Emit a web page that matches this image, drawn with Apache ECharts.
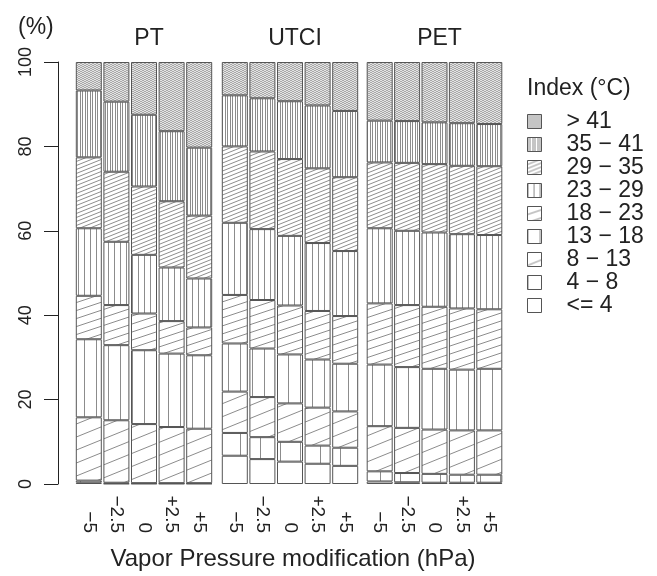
<!DOCTYPE html>
<html>
<head>
<meta charset="utf-8">
<script src="https://cdn.jsdelivr.net/npm/echarts@6/dist/echarts.min.js"></script>
<style>
  html, body { margin: 0; padding: 0; background: #fff; }
  #main { width: 657px; height: 576px; }
</style>
</head>
<body>
<div id="main"></div>
<script>
// categories
var indices = ['PT', 'UTCI', 'PET'];
var modifications = ['\u22125', '\u22122.5', '0', '+2.5', '+5'];
var classes = ['<= 4', '4 \u2212 8', '8 \u2212 13', '13 \u2212 18', '18 \u2212 23',
               '23 \u2212 29', '29 \u2212 35', '35 \u2212 41', '> 41'];

// share of hours (%) per class (rows, coldest first) and modification (columns)
var ptShares = [
	[0.3, 0.1, 0.1, 0.1, 0.1],
	[0.5, 0.2, 0.1, 0.1, 0.1],
	[15.0, 14.8, 14.0, 13.3, 12.9],
	[18.5, 17.8, 17.5, 17.4, 17.4],
	[10.3, 9.5, 8.7, 7.7, 6.6],
	[16.0, 15.0, 13.9, 12.7, 11.6],
	[16.8, 16.6, 16.2, 15.7, 14.9],
	[15.85, 16.6, 17.0, 16.6, 16.1],
	[6.75, 9.4, 12.5, 16.4, 20.3]
];
var utciShares = [
	[6.7, 5.9, 5.3, 4.8, 4.3],
	[5.4, 5.2, 4.7, 4.3, 4.3],
	[9.8, 9.5, 9.1, 9.0, 8.6],
	[11.4, 11.5, 11.6, 11.4, 11.3],
	[11.5, 11.5, 11.6, 11.5, 11.3],
	[17.1, 16.8, 16.5, 16.1, 15.4],
	[18.1, 18.4, 18.2, 17.7, 17.5],
	[12.1, 12.6, 13.7, 14.9, 15.7],
	[7.9, 8.6, 9.3, 10.3, 11.6]
];
var petShares = [
	[0.6, 0.4, 0.3, 0.3, 0.3],
	[2.4, 2.2, 2.1, 1.9, 1.9],
	[10.7, 10.7, 10.5, 10.5, 10.5],
	[14.6, 14.4, 14.4, 14.4, 14.6],
	[14.5, 14.7, 14.7, 14.5, 14.1],
	[17.8, 17.6, 17.6, 17.6, 17.6],
	[15.6, 16.1, 16.2, 16.2, 16.3],
	[9.9, 9.9, 9.9, 10.1, 10.0],
	[13.9, 14.0, 14.3, 14.5, 14.7]
];
var yTicks = [0, 20, 40, 60, 80, 100];

var hatchColor = '#8c8c8c';
var edgeColor = '#555';
var font = '"Liberation Sans", Arial, Helvetica, sans-serif';

// vertical line fill, lines at the given x offsets inside a tile of width w
function vLines(w, xs) {
	var c = document.createElement('canvas');
	c.width = w; c.height = 4;
	var ctx = c.getContext('2d');
	ctx.fillStyle = '#fff';
	ctx.fillRect(0, 0, w, 4);
	ctx.fillStyle = hatchColor;
	xs.forEach(function(x) { ctx.fillRect(x, 0, 1, 4); });
	return { image: c, repeat: 'repeat' };
}

// slanted line fill rising to the right, one line per w x h tile
function sLines(w, h) {
	var c = document.createElement('canvas');
	c.width = w; c.height = h;
	var ctx = c.getContext('2d');
	ctx.fillStyle = '#fff';
	ctx.fillRect(0, 0, w, h);
	ctx.strokeStyle = hatchColor;
	ctx.lineWidth = 1;
	for (var i = -1; i <= 1; i++) {
		for (var j = -1; j <= 1; j++) {
			ctx.beginPath();
			ctx.moveTo(i * w, h + j * h);
			ctx.lineTo(w + i * w, j * h);
			ctx.stroke();
		}
	}
	return { image: c, repeat: 'repeat' };
}

var fills = [
	'#fff',
	vLines(20, [0]),
	sLines(32, 13),
	vLines(12, [0]),
	sLines(24, 8),
	vLines(6, [0]),
	sLines(10, 4),
	vLines(5, [0, 2]),
	sLines(4, 2)
];

var shares = [ptShares, utciShares, petShares];
var gridLeft = [75, 221, 366];
var gridWidth = [138, 138, 137];

var grids = [], xAxes = [], yAxes = [], series = [];
indices.forEach(function(name, g) {
	grids.push({ left: gridLeft[g], width: gridWidth[g], top: 62, bottom: 92 });
	xAxes.push({
		type: 'category', gridIndex: g, data: modifications,
		axisLine: { show: false }, axisTick: { show: false },
		axisLabel: {
			rotate: -90, align: 'right', verticalAlign: 'middle', margin: 49,
			fontSize: 19, color: '#222', fontFamily: font, interval: 0
		}
	});
	yAxes.push({
		type: 'value', gridIndex: g, min: 0, max: 100, interval: 20,
		show: g === 0, offset: 17,
		axisLine: { show: true, lineStyle: { color: '#222', width: 1 } },
		axisTick: { show: true, length: 14, lineStyle: { color: '#222' } },
		axisLabel: {
			rotate: 90, margin: 23, fontSize: 18, color: '#222', fontFamily: font,
			formatter: function(v) { return yTicks.indexOf(v) >= 0 ? String(v) : ''; }
		},
		splitLine: { show: false }
	});
	classes.forEach(function(cls, k) {
		series.push({
			name: cls, type: 'bar', stack: name,
			xAxisIndex: g, yAxisIndex: g,
			barWidth: 26,
			data: shares[g][k],
			itemStyle: { color: fills[k], borderColor: edgeColor, borderWidth: 1 },
			emphasis: { disabled: true },
			animation: false
		});
	});
});

var textBase = { fontWeight: 'normal', color: '#222', fontFamily: font };
var titles = [
	{ text: '(%)', left: 13, top: 11, textStyle: Object.assign({ fontSize: 23 }, textBase) },
	{ text: 'Index (\u00b0C)', left: 522, top: 72, textStyle: Object.assign({ fontSize: 23 }, textBase) },
	{ text: 'Vapor Pressure modification (hPa)', left: 288, top: 542, textAlign: 'center',
	  textStyle: Object.assign({ fontSize: 24 }, textBase) }
];
indices.forEach(function(name, g) {
	titles.push({
		text: name, left: gridLeft[g] + gridWidth[g] / 2, top: 22, textAlign: 'center',
		textStyle: Object.assign({ fontSize: 23 }, textBase)
	});
});

var chart = echarts.init(document.getElementById('main'));
chart.setOption({
	backgroundColor: '#fff',
	animation: false,
	title: titles,
	grid: grids,
	xAxis: xAxes,
	yAxis: yAxes,
	legend: {
		orient: 'vertical', left: 522, top: 105,
		data: classes.slice().reverse(),
		icon: 'rect', itemWidth: 14, itemHeight: 14, itemGap: 0,
		selectedMode: false,
		itemStyle: { borderColor: edgeColor, borderWidth: 1 },
		textStyle: { fontSize: 23, color: '#222', fontFamily: font, lineHeight: 22, height: 22, padding: [0, 0, 0, 20] }
	},
	series: series
});
</script>
</body>
</html>
